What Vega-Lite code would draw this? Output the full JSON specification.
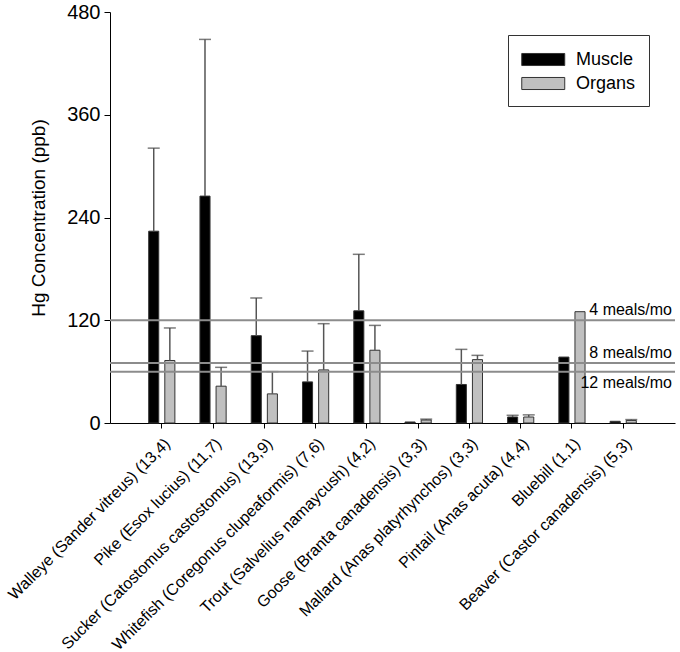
{
  "$schema": "https://vega.github.io/schema/vega-lite/v6.json",
  "autosize": "none",
  "width": 565,
  "height": 411,
  "padding": {"left": 110, "top": 12, "right": 5, "bottom": 229},
  "background": "white",
  "config": {
    "font": "Liberation Sans",
    "view": {"stroke": null},
    "axis": {"domainColor": "black", "tickColor": "black", "labelColor": "black", "titleColor": "black", "grid": false}
  },
  "datasets": {
    "bars": [
      {"species": "Walleye (Sander vitreus) (13,4)", "tissue": "Muscle", "value": 224, "upper": 321},
      {"species": "Walleye (Sander vitreus) (13,4)", "tissue": "Organs", "value": 73, "upper": 111},
      {"species": "Pike (Esox lucius) (11,7)", "tissue": "Muscle", "value": 265, "upper": 448},
      {"species": "Pike (Esox lucius) (11,7)", "tissue": "Organs", "value": 43, "upper": 65},
      {"species": "Sucker (Catostomus castostomus) (13,9)", "tissue": "Muscle", "value": 102, "upper": 146},
      {"species": "Sucker (Catostomus castostomus) (13,9)", "tissue": "Organs", "value": 34, "upper": 60},
      {"species": "Whitefish (Coregonus clupeaformis) (7,6)", "tissue": "Muscle", "value": 48, "upper": 84},
      {"species": "Whitefish (Coregonus clupeaformis) (7,6)", "tissue": "Organs", "value": 62, "upper": 116},
      {"species": "Trout (Salvelius namaycush) (4,2)", "tissue": "Muscle", "value": 131, "upper": 197},
      {"species": "Trout (Salvelius namaycush) (4,2)", "tissue": "Organs", "value": 85, "upper": 114},
      {"species": "Goose (Branta canadensis) (3,3)", "tissue": "Muscle", "value": 1.2},
      {"species": "Goose (Branta canadensis) (3,3)", "tissue": "Organs", "value": 3.5, "upper": 4.5},
      {"species": "Mallard (Anas platyrhynchos) (3,3)", "tissue": "Muscle", "value": 45, "upper": 86},
      {"species": "Mallard (Anas platyrhynchos) (3,3)", "tissue": "Organs", "value": 74, "upper": 79},
      {"species": "Pintail (Anas acuta) (4,4)", "tissue": "Muscle", "value": 7, "upper": 9},
      {"species": "Pintail (Anas acuta) (4,4)", "tissue": "Organs", "value": 7, "upper": 9.5},
      {"species": "Bluebill (1,1)", "tissue": "Muscle", "value": 77},
      {"species": "Bluebill (1,1)", "tissue": "Organs", "value": 130},
      {"species": "Beaver (Castor canadensis) (5,3)", "tissue": "Muscle", "value": 2},
      {"species": "Beaver (Castor canadensis) (5,3)", "tissue": "Organs", "value": 3, "upper": 4}
    ],
    "refs": [
      {"label": "4 meals/mo", "hg": 120, "side": "above"},
      {"label": "8 meals/mo", "hg": 70, "side": "above"},
      {"label": "12 meals/mo", "hg": 60, "side": "below"}
    ]
  },
  "layer": [
    {
      "data": {"name": "bars"},
      "mark": {"type": "bar", "stroke": "#333333", "strokeWidth": 1},
      "encoding": {
        "x": {
          "field": "species", "type": "nominal", "sort": null,
          "scale": {"paddingInner": 0.42, "paddingOuter": 0.72},
          "axis": {"title": null, "labelAngle": -45, "labelFontSize": 16, "tickSize": 5, "labelPadding": 7, "labelLimit": 400}
        },
        "xOffset": {"field": "tissue", "type": "nominal", "scale": {"paddingInner": 0.375, "paddingOuter": 0.11}},
        "y": {
          "field": "value", "type": "quantitative",
          "scale": {"domain": [0, 480], "nice": false},
          "axis": {"title": "Hg Concentration (ppb)", "values": [0, 120, 240, 360, 480], "labelFontSize": 20, "titleFontSize": 19, "titleFontWeight": "normal", "tickSize": 6, "labelPadding": 4, "titlePadding": 18}
        },
        "fill": {
          "field": "tissue", "type": "nominal",
          "scale": {"domain": ["Muscle", "Organs"], "range": ["#000000", "#c0c0c0"]},
          "legend": {
            "title": null, "orient": "none", "legendX": 398, "legendY": 23,
            "strokeColor": "#333333", "fillColor": "white", "padding": 13,
            "symbolType": "M-1,-0.56H3V0.56H-1Z", "symbolSize": 462,
            "symbolStrokeColor": "#333333", "symbolStrokeWidth": 1,
            "labelFontSize": 18, "labelOffset": 32, "rowPadding": 3, "labelColor": "black"
          }
        }
      }
    },
    {
      "data": {"name": "bars"},
      "transform": [{"filter": "isValid(datum.upper)"}],
      "mark": {"type": "rule", "color": "#555555", "strokeWidth": 1.5},
      "encoding": {
        "x": {"field": "species", "type": "nominal", "sort": null},
        "xOffset": {"field": "tissue", "type": "nominal"},
        "y": {"field": "value", "type": "quantitative"},
        "y2": {"field": "upper"}
      }
    },
    {
      "data": {"name": "bars"},
      "transform": [{"filter": "isValid(datum.upper)"}],
      "mark": {"type": "tick", "color": "#444444", "size": 12, "thickness": 1.5, "orient": "horizontal"},
      "encoding": {
        "x": {"field": "species", "type": "nominal", "sort": null},
        "xOffset": {"field": "tissue", "type": "nominal"},
        "y": {"field": "upper", "type": "quantitative"}
      }
    },
    {
      "data": {"name": "refs"},
      "mark": {"type": "rule", "color": "#8c8c8c", "strokeWidth": 2},
      "encoding": {"y": {"field": "hg", "type": "quantitative"}}
    },
    {
      "data": {"name": "refs"},
      "transform": [{"filter": "datum.side === 'above'"}],
      "mark": {"type": "text", "align": "right", "baseline": "bottom", "dy": -2, "dx": -3, "fontSize": 16, "color": "black"},
      "encoding": {
        "x": {"value": "width"},
        "y": {"field": "hg", "type": "quantitative"},
        "text": {"field": "label"}
      }
    },
    {
      "data": {"name": "refs"},
      "transform": [{"filter": "datum.side === 'below'"}],
      "mark": {"type": "text", "align": "right", "baseline": "top", "dy": 3, "dx": -3, "fontSize": 16, "color": "black"},
      "encoding": {
        "x": {"value": "width"},
        "y": {"field": "hg", "type": "quantitative"},
        "text": {"field": "label"}
      }
    }
  ]
}
